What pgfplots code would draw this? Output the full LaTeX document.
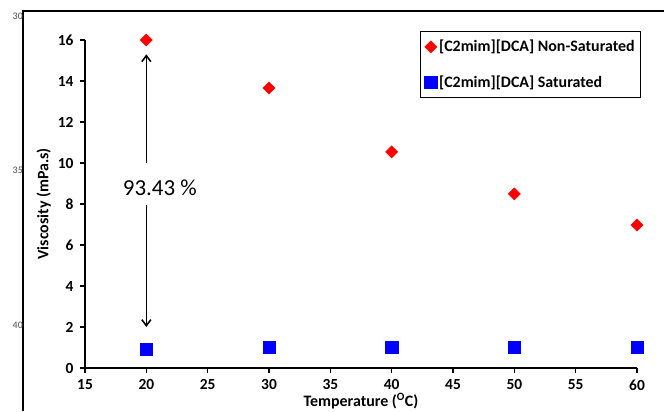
\documentclass[border=0pt]{standalone}
\usepackage{pgfplots}
\pgfplotsset{compat=1.18}
\usepackage{fontspec}
\setmainfont{Carlito}
\usetikzlibrary{arrows.meta}
\definecolor{nsred}{RGB}{255,0,0}
\definecolor{satblue}{RGB}{0,0,255}
\begin{document}
\begin{tikzpicture}[x=1bp,y=1bp]
  \useasboundingbox (0,0) rectangle (664,411);
  % page frame and line numbers of the source document
  \draw[line width=1.2bp] (23,0) -- (23,400) -- (664,400);
  \node[font=\fontsize{10}{12}\selectfont\rmfamily, text=black!70, anchor=east, inner sep=0pt] at (23,395) {30};
  \node[font=\fontsize{10}{12}\selectfont\rmfamily, text=black!70, anchor=east, inner sep=0pt] at (23,241) {35};
  \node[font=\fontsize{10}{12}\selectfont\rmfamily, text=black!70, anchor=east, inner sep=0pt] at (23,86) {40};
  \begin{axis}[
      at={(85bp,43bp)}, anchor=south west,
      scale only axis, width=552bp, height=328bp,
      xmin=15, xmax=60, ymin=0, ymax=16,
      xtick distance=5, ytick distance=2,
      axis x line=bottom, axis y line=left,
      axis line style={-, line width=1.4bp},
      tick style={black, line width=1.2bp},
      tick align=outside, major tick length=5bp,
      tick label style={font=\bfseries\fontsize{15.5}{18}\selectfont},
      xticklabel style={yshift=-3bp},
      yticklabel style={xshift=-3bp},
      /pgf/number format/assume math mode=true,
      xlabel={Temperature (\textsuperscript{O}C)},
      ylabel={Viscosity (mPa.s)},
      label style={font=\bfseries\fontsize{16}{18}\selectfont},
      xlabel style={yshift=4bp},
      clip=false,
      legend image code/.code={%
        \draw[mark repeat=2, mark phase=2, #1]
          plot coordinates {(0bp,0bp) (6bp,0bp) (12bp,0bp)};},
      legend style={at={(1.007,1.027)}, anchor=north east, draw=black,
        font=\bfseries\fontsize{16}{18}\selectfont, row sep=18bp,
        inner xsep=4bp, inner ysep=7bp, legend cell align=left},
    ]
    \addplot[only marks, mark=square*, mark size=4.3bp, mark options={rotate=45}, color=nsred] coordinates {
      (20,16.0) (30,13.66) (40,10.54) (50,8.49) (60,6.98)
    };
    \addlegendentry{[C2mim][DCA] Non-Saturated}
    \addplot[only marks, mark=square*, mark size=6.2bp, color=satblue] coordinates {
      (20,0.92) (30,1.02) (40,1.02) (50,1.02) (60,1.02)
    };
    \addlegendentry{[C2mim][DCA] Saturated}
    \draw[line width=1.6bp, -{Straight Barb[length=6bp,width=9bp]}] (axis cs:20,10.0) -- (axis cs:20,15.3);
    \draw[line width=1.6bp, -{Straight Barb[length=6bp,width=9bp]}] (axis cs:20,7.95) -- (axis cs:20,2.0);
    \node[font=\fontsize{23}{27}\selectfont] at (axis cs:21.1,8.8) {93.43 \%};
  \end{axis}
\end{tikzpicture}
\end{document}
